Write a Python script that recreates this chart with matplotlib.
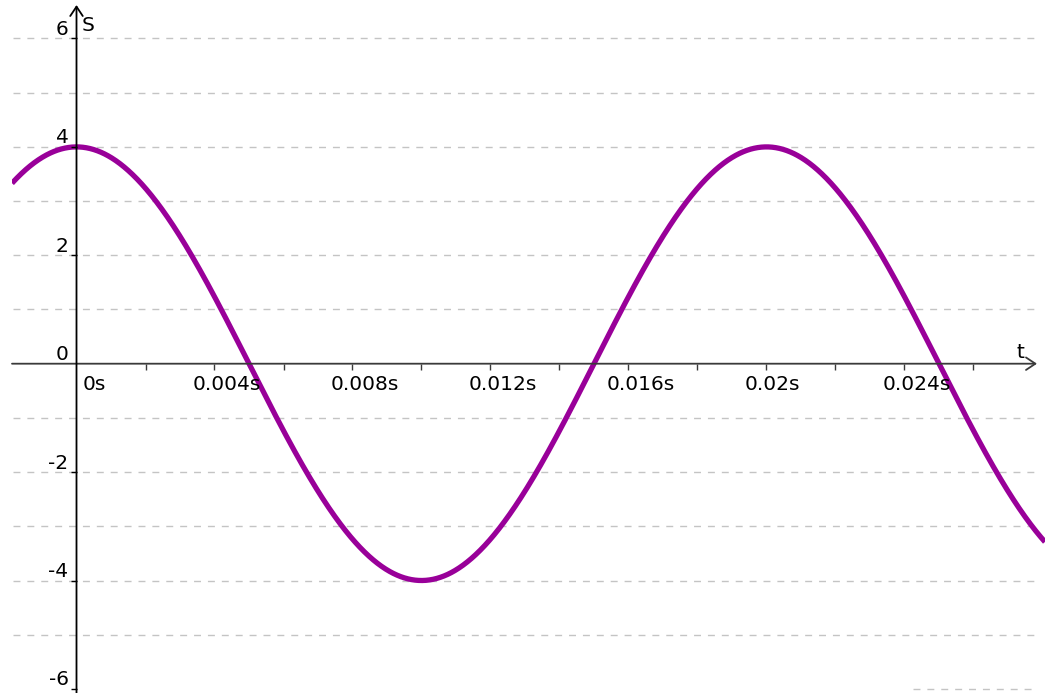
import numpy as np
import matplotlib
matplotlib.use("Agg")
import matplotlib.pyplot as plt
from matplotlib import markers

# ---- data ----
amplitude = 4.0          # peak value of s
period = 0.02            # seconds between peaks
x_tick_values = [0.002, 0.004, 0.006, 0.008, 0.010, 0.012, 0.014, 0.016,
                 0.018, 0.020, 0.022, 0.024, 0.026]
x_label_values = [0.0, 0.004, 0.008, 0.012, 0.016, 0.020, 0.024]
x_label_texts = ["0s", "0.004s", "0.008s", "0.012s", "0.016s", "0.02s", "0.024s"]
y_label_values = [-6, -4, -2, 0, 2, 4, 6]
y_label_texts = ["-6", "-4", "-2", "0", "2", "4", "6"]
grid_values = [-5, -4, -3, -2, -1, 1, 2, 3, 4, 5, 6]

W, H = 1045, 693
fig = plt.figure(figsize=(W / 100, H / 100), dpi=100)
fig.patch.set_facecolor("white")

# pixel geometry of the reference
px_left = 12
t_per_px = 0.001 / 34.5
x0_px = 76.5
s_per_px = 1 / 54.2
y0_px = 363.7

ax = fig.add_axes([px_left / W, 0, (W - px_left) / W, 1])
tmin = (px_left - x0_px) * t_per_px
tmax = (W - x0_px) * t_per_px
smax = y0_px * s_per_px
smin = -(H - y0_px) * s_per_px
ax.set_xlim(tmin, tmax)
ax.set_ylim(smin, smax)
ax.axis("off")

grid_end = (1034 - x0_px) * t_per_px
grid_start = (13 - x0_px) * t_per_px
for g in grid_values:
    ax.plot([grid_start, grid_end], [g, g], color="#c4c4c4", lw=1.0,
            dashes=(5, 5), zorder=1)
# partial bottom gridline seen at lower right
ax.plot([(913 - x0_px) * t_per_px, grid_end], [-6, -6], color="#c4c4c4",
        lw=1.0, dashes=(5, 5), zorder=1)

# axes with open arrowheads
xaxis_end = (1037 - x0_px) * t_per_px
yaxis_end = (y0_px - 5) * s_per_px
ax.annotate("", xy=(xaxis_end, 0), xytext=(tmin, 0),
            arrowprops=dict(arrowstyle="->,head_length=0.45,head_width=0.3",
                            color="#3a3a3a", lw=1.3, shrinkA=0, shrinkB=0,
                            mutation_scale=15), zorder=3)
ax.annotate("", xy=(0, yaxis_end), xytext=(0, smin),
            arrowprops=dict(arrowstyle="->,head_length=0.45,head_width=0.3",
                            color="black", lw=1.3, shrinkA=0, shrinkB=0,
                            mutation_scale=15), zorder=3)

# ticks
ax.plot(x_tick_values, np.zeros(len(x_tick_values)), linestyle="none",
        marker=markers.TICKDOWN, markersize=4, mew=1.0, color="#3a3a3a", zorder=3)
yt = [v for v in y_label_values if v != 0]
ax.plot(np.zeros(len(yt)), yt, linestyle="none",
        marker=markers.TICKLEFT, markersize=4, mew=1.0, color="black", zorder=3)

fs = 14.5
for v, txt in zip(x_label_values, x_label_texts):
    dx = 6.5 if v == 0 else -21.5
    ax.annotate(txt, xy=(v, 0), xytext=(dx, -26), textcoords="offset pixels",
                ha="left", va="baseline", fontsize=fs, color="black",
                family="DejaVu Sans", zorder=4)
for v, txt in zip(y_label_values, y_label_texts):
    ax.annotate(txt, xy=(0, v), xytext=(-8, 3.5), textcoords="offset pixels",
                ha="right", va="baseline", fontsize=fs, color="black",
                family="DejaVu Sans", zorder=4)

# axis names
fig.text(82 / W, 1 - 31 / H, "S", fontsize=fs, ha="left", va="baseline",
         family="DejaVu Sans")
fig.text(1016 / W, 1 - 358 / H, "t", fontsize=fs, ha="left", va="baseline",
         family="DejaVu Sans")

# the curve s(t)
t = np.linspace(tmin, tmax, 2000)
s = amplitude * np.cos(2 * np.pi * t / period)
ax.plot(t, s, color="#990099", lw=3.8, solid_capstyle="butt", zorder=2)

fig.savefig("out.png", dpi=100, facecolor="white")
